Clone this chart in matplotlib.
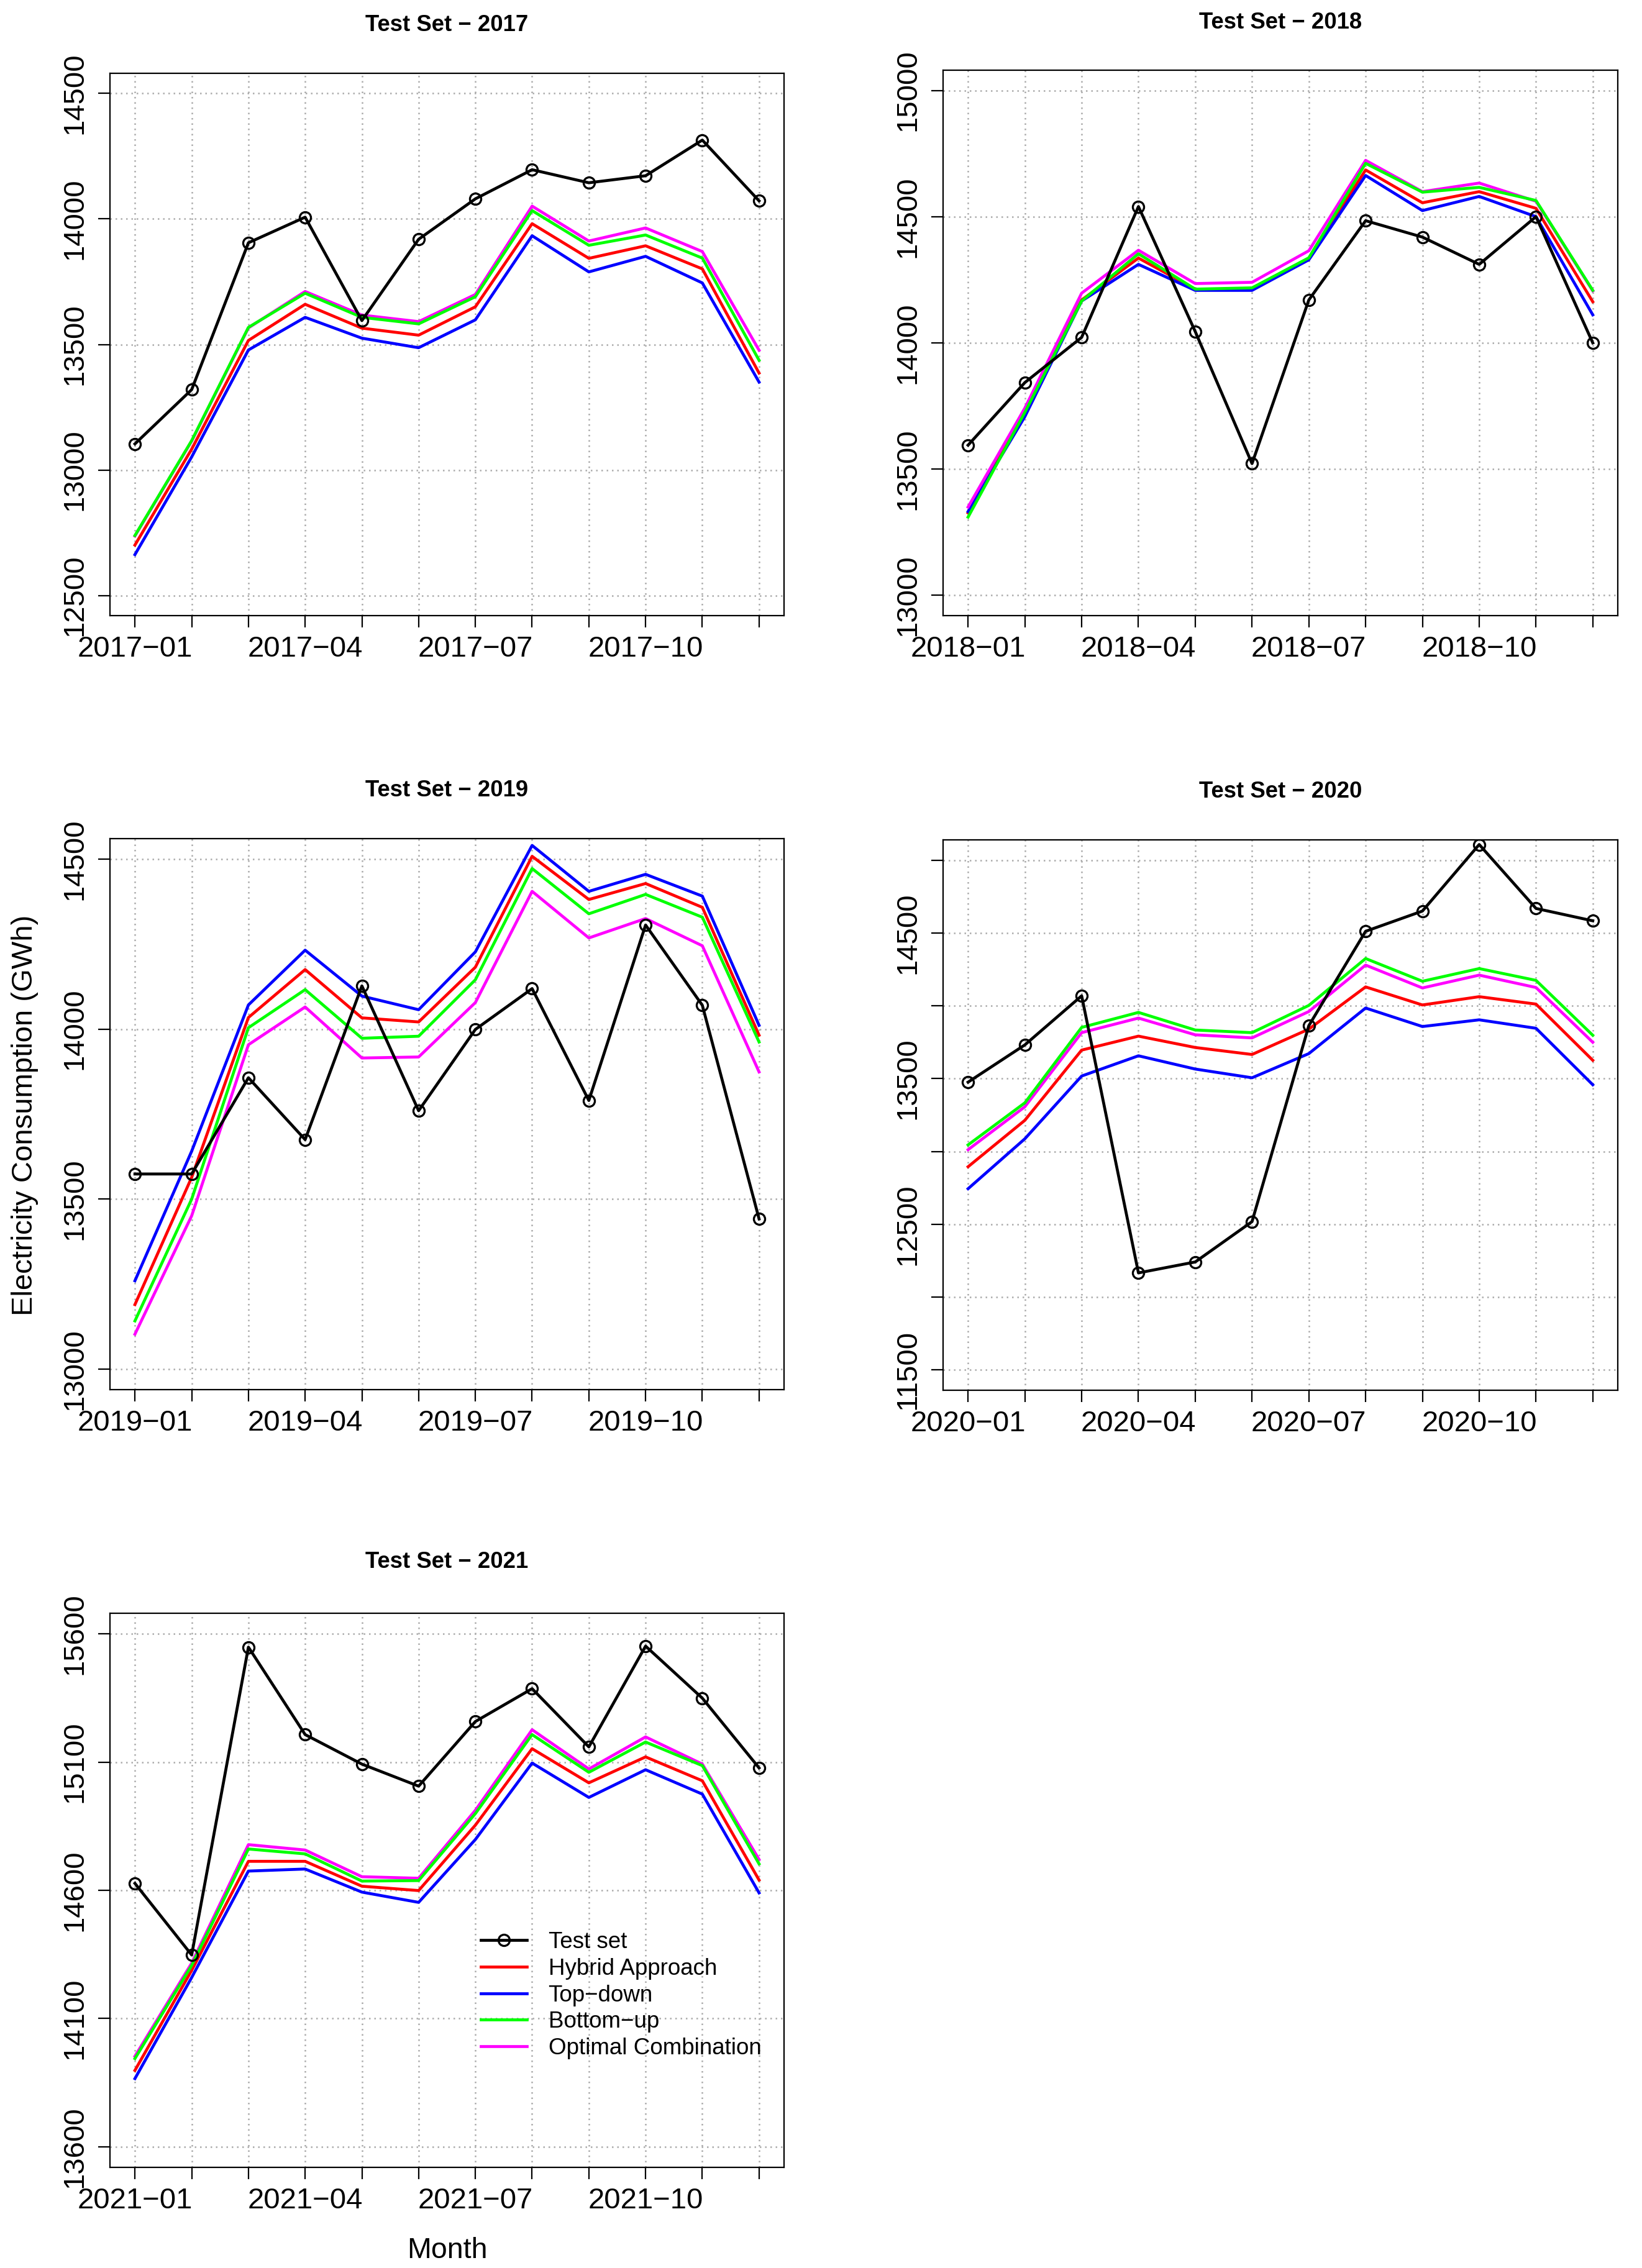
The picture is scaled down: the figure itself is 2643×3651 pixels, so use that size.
import matplotlib
matplotlib.use("Agg")
import matplotlib.pyplot as plt

plt.rcParams['font.family'] = ['Liberation Sans', 'DejaVu Sans']

# ---------------- data ----------------
years = [2017, 2018, 2019, 2020, 2021]
months = list(range(1, 13))
labelled_months = [1, 4, 7, 10]

test_2017 = [13104, 13320, 13905, 14007, 13595, 13919, 14080, 14196, 14144, 14172, 14314, 14072]
hybrid_2017 = [12701, 13083, 13516, 13660, 13565, 13537, 13650, 13981, 13843, 13893, 13801, 13386]
topdown_2017 = [12663, 13052, 13478, 13608, 13525, 13487, 13598, 13933, 13789, 13851, 13745, 13350]
bottomup_2017 = [12739, 13117, 13568, 13704, 13608, 13582, 13690, 14033, 13895, 13936, 13844, 13437]
optimal_2017 = [12737, 13115, 13566, 13711, 13617, 13591, 13699, 14051, 13912, 13964, 13870, 13477]

test_2018 = [13595, 13843, 14022, 14540, 14045, 13522, 14170, 14484, 14419, 14311, 14500, 14000]
hybrid_2018 = [13327, 13734, 14170, 14336, 14213, 14213, 14334, 14685, 14555, 14599, 14533, 14163]
topdown_2018 = [13332, 13708, 14166, 14311, 14208, 14208, 14329, 14663, 14524, 14580, 14500, 14111]
bottomup_2018 = [13310, 13725, 14166, 14353, 14213, 14218, 14337, 14711, 14597, 14616, 14564, 14208]
optimal_2018 = [13350, 13742, 14197, 14367, 14235, 14240, 14365, 14723, 14599, 14633, 14561, 14206]

test_2019 = [13574, 13574, 13857, 13675, 14127, 13760, 13999, 14119, 13790, 14306, 14070, 13442]
hybrid_2019 = [13190, 13564, 14034, 14175, 14033, 14021, 14182, 14508, 14381, 14428, 14358, 13982]
topdown_2019 = [13260, 13641, 14071, 14232, 14097, 14057, 14227, 14540, 14405, 14455, 14391, 14011]
bottomup_2019 = [13142, 13500, 14004, 14116, 13973, 13979, 14145, 14472, 14339, 14396, 14329, 13962]
optimal_2019 = [13103, 13451, 13954, 14065, 13915, 13918, 14078, 14405, 14268, 14325, 14245, 13874]

test_2020 = [13476, 13732, 14069, 12166, 12241, 12518, 13864, 14512, 14651, 15108, 14669, 14584]
hybrid_2020 = [12895, 13214, 13696, 13792, 13714, 13666, 13840, 14130, 14006, 14063, 14012, 13626]
topdown_2020 = [12744, 13087, 13518, 13657, 13566, 13506, 13672, 13985, 13858, 13904, 13846, 13458]
bottomup_2020 = [13045, 13334, 13852, 13955, 13834, 13816, 14003, 14325, 14169, 14256, 14175, 13798]
optimal_2020 = [13012, 13307, 13816, 13916, 13801, 13780, 13961, 14280, 14123, 14211, 14126, 13750]

test_2021 = [14627, 14348, 15548, 15207, 15092, 15006, 15258, 15386, 15159, 15552, 15349, 15077]
hybrid_2021 = [13898, 14288, 14713, 14713, 14616, 14599, 14854, 15152, 15019, 15120, 15027, 14640]
topdown_2021 = [13866, 14260, 14675, 14683, 14593, 14553, 14798, 15096, 14962, 15070, 14975, 14590]
bottomup_2021 = [13944, 14307, 14761, 14742, 14636, 14638, 14899, 15207, 15060, 15178, 15086, 14703]
optimal_2021 = [13953, 14316, 14778, 14757, 14653, 14647, 14912, 15226, 15073, 15198, 15092, 14720]

yticks_2017 = [12500, 13000, 13500, 14000, 14500]
yticks_2018 = [13000, 13500, 14000, 14500, 15000]
yticks_2019 = [13000, 13500, 14000, 14500]
yticks_2020 = [11500, 12000, 12500, 13000, 13500, 14000, 14500, 15000]
yticks_2021 = [13600, 14100, 14600, 15100, 15600]

ylabels_2017 = ['12500', '13000', '13500', '14000', '14500']
ylabels_2018 = ['13000', '13500', '14000', '14500', '15000']
ylabels_2019 = ['13000', '13500', '14000', '14500']
ylabels_2020 = ['11500', '', '12500', '', '13500', '', '14500', '']
ylabels_2021 = ['13600', '14100', '14600', '15100', '15600']

series_names = ['Test set', 'Hybrid Approach', 'Top\u2212down', 'Bottom\u2212up', 'Optimal Combination']

# ---------------- layout ----------------
W, H = 2643, 3651
fig = plt.figure(figsize=(W / 100, H / 100), dpi=100)
fig.patch.set_facecolor('white')

boxes = {  # x0, x1, y0(top), y1(bottom) in pixels
    2017: (177, 1262, 118, 991),
    2018: (1518, 2604, 113, 991),
    2019: (177, 1262, 1350, 2237),
    2020: (1518, 2604, 1352, 2238),
    2021: (177, 1262, 2597, 3489),
}
title_y = {2017: 41, 2018: 36, 2019: 1273, 2020: 1275, 2021: 2515}

data = {
    2017: (test_2017, hybrid_2017, topdown_2017, bottomup_2017, optimal_2017, yticks_2017, ylabels_2017),
    2018: (test_2018, hybrid_2018, topdown_2018, bottomup_2018, optimal_2018, yticks_2018, ylabels_2018),
    2019: (test_2019, hybrid_2019, topdown_2019, bottomup_2019, optimal_2019, yticks_2019, ylabels_2019),
    2020: (test_2020, hybrid_2020, topdown_2020, bottomup_2020, optimal_2020, yticks_2020, ylabels_2020),
    2021: (test_2021, hybrid_2021, topdown_2021, bottomup_2021, optimal_2021, yticks_2021, ylabels_2021),
}

LW = 3.4
GRID = '#ABABAB'
TICKFS = 34

for year in years:
    test, hyb, td, bu, oc, yt, yl = data[year]
    x0, x1, y0, y1 = boxes[year]
    ax = fig.add_axes([x0 / W, 1 - y1 / H, (x1 - x0) / W, (y1 - y0) / H])

    # grid (dotted light gray)
    for m in months:
        ax.axvline(m, color=GRID, lw=1.8, ls=(0, (1.0, 2.4)), zorder=0.5)
    for v in yt:
        ax.axhline(v, color=GRID, lw=1.8, ls=(0, (1.0, 2.4)), zorder=0.5)

    l_h, = ax.plot(months, hyb, color='#FF0000', lw=LW, zorder=2)
    l_t, = ax.plot(months, td, color='#0000FF', lw=LW, zorder=2.1)
    l_o, = ax.plot(months, oc, color='#FF00FF', lw=LW, zorder=2.2)
    l_b, = ax.plot(months, bu, color='#00FF00', lw=LW, zorder=2.3)
    l_s, = ax.plot(months, test, color='black', lw=LW, marker='o', ms=13,
                   mfc='none', mec='black', mew=2.4, zorder=3)

    ax.set_xlim(1 - 0.04 * 11, 12 + 0.04 * 11)
    lo, hi = yt[0], yt[-1]
    r = hi - lo
    ax.set_ylim(lo - 0.04 * r, hi + 0.04 * r)

    ax.set_xticks(months)
    ax.set_xticklabels([f"{year}\u2212{m:02d}" if m in labelled_months else '' for m in months])
    ax.set_yticks(yt)
    ax.set_yticklabels(yl, rotation=90, va='center')

    ax.tick_params(axis='both', direction='out', length=13.7, width=1.6,
                   labelsize=TICKFS, color='black')
    ax.tick_params(axis='x', pad=9)
    ax.tick_params(axis='y', pad=11)
    for s in ax.spines.values():
        s.set_linewidth(1.6)
        s.set_color('black')

    fig.text(((x0 + x1) / 2) / W, 1 - title_y[year] / H, f"Test Set \u2212 {year}",
             ha='center', va='center', fontsize=26.3, fontweight='bold')

    if year == 2021:
        leg = ax.legend([l_s, l_h, l_t, l_b, l_o], series_names,
                        loc='center left', bbox_to_anchor=(774 / W, 1 - 3212 / H),
                        bbox_transform=fig.transFigure, frameon=False,
                        fontsize=26.5, handlelength=2.0, handletextpad=0.95,
                        labelspacing=0.21, borderpad=0, borderaxespad=0)

fig.text(40 / W, 1 - 1795 / H, 'Electricity Consumption (GWh)', rotation=90,
         ha='center', va='center', fontsize=34)
fig.text(720 / W, 1 - 3623 / H, 'Month', ha='center', va='center', fontsize=33.5)

fig.savefig('out.png', dpi=100, facecolor='white')
